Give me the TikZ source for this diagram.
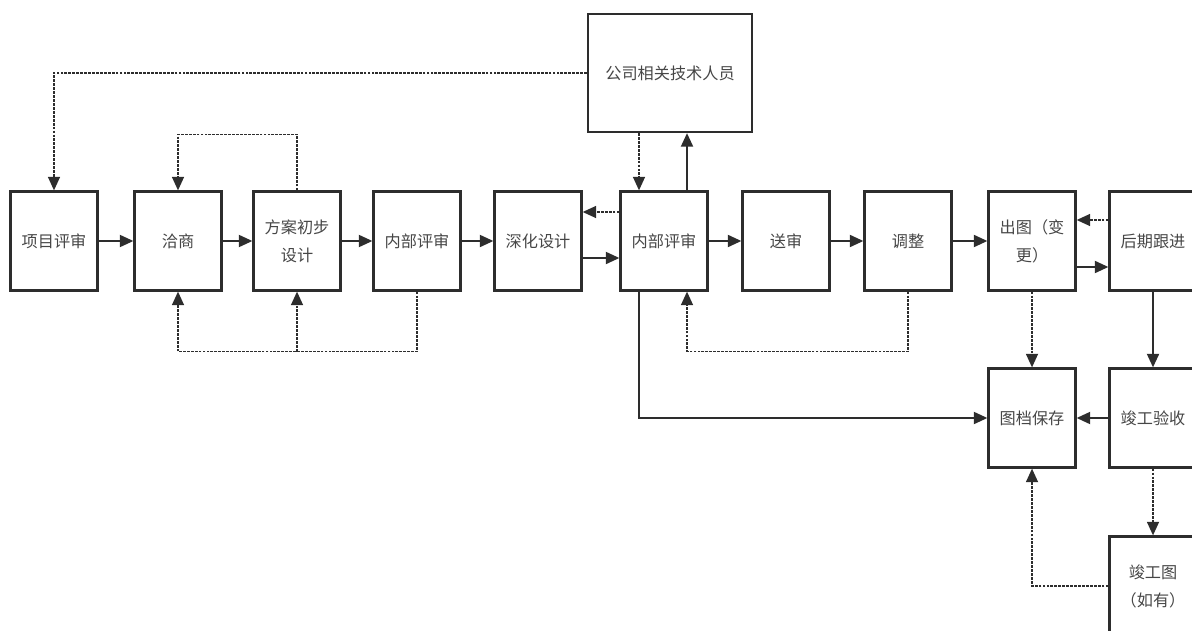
\documentclass[tikz,border=0pt]{standalone}
\usepackage{fontspec}
\newfontfamily\cjk{Noto Sans CJK SC}
\usetikzlibrary{arrows.meta,positioning,calc}
\definecolor{flowLine}{RGB}{45,45,45}
\definecolor{flowText}{RGB}{70,70,70}
\tikzset{
    flowBox/.style={
        rectangle,
        draw=flowLine,
        line width=1.6pt,
        minimum width=2.175cm,
        minimum height=2.475cm,
        font=\cjk\fontsize{11.5}{20}\selectfont,
        text=flowText,
        align=center,
        inner sep=2pt
    },
    flowTip/.style={-{Triangle[length=3.4mm,width=3mm]}}
}

\begin{document}
\begin{tikzpicture}[
    arr/.style={flowTip, draw=flowLine, line width=1.5pt},
    dotarr/.style={flowTip, draw=flowLine, line width=1.2pt, dash pattern=on 2pt off 0.8pt},
    dotline/.style={draw=flowLine, line width=1.2pt, dash pattern=on 2pt off 0.8pt}
]
\useasboundingbox (0,0) rectangle (29.8,15.75);

% Main row
\node[flowBox] (xm) at (1.35, 9.725) {项目评审};
\node[flowBox] (qs) at (4.45, 9.725) {洽商};
\node[flowBox] (fa) at (7.425, 9.725) {方案初步\\设计};
\node[flowBox] (nb1) at (10.425, 9.725) {内部评审};
\node[flowBox] (sh) at (13.45, 9.725) {深化设计};
\node[flowBox] (nb2) at (16.6, 9.725) {内部评审};
\node[flowBox] (ss) at (19.65, 9.725) {送审};
\node[flowBox] (tz) at (22.7, 9.725) {调整};
\node[flowBox] (ct) at (25.8, 9.725) {出图（变\\更）};
\node[flowBox] (hq) at (28.825, 9.725) {后期跟进};

% Staff box
\node[flowBox, minimum width=4.1cm, minimum height=2.95cm] (gs) at (16.75, 13.925) {公司相关技术人员};

% Lower rows
\node[flowBox] (td) at (25.8, 5.3) {图档保存};
\node[flowBox] (jy) at (28.825, 5.3) {竣工验收};
\node[flowBox] (jt) at (28.825, 1.1) {竣工图\\（如有）};

% Forward flow
\draw[arr] (xm) -- (qs);
\draw[arr] (qs) -- (fa);
\draw[arr] (fa) -- (nb1);
\draw[arr] (nb1) -- (sh);
\draw[arr] ([yshift=-0.425cm]sh.east) -- ([yshift=-0.425cm]nb2.west);
\draw[dotarr] ([yshift=0.725cm]nb2.west) -- ([yshift=0.725cm]sh.east);
\draw[arr] (nb2) -- (ss);
\draw[arr] (ss) -- (tz);
\draw[arr] (tz) -- (ct);
\draw[arr] ([yshift=-0.65cm]ct.east) -- ([yshift=-0.65cm]hq.west);
\draw[dotarr] ([yshift=0.525cm]hq.west) -- ([yshift=0.525cm]ct.east);

% Staff links
\draw[dotarr] ([xshift=-0.625cm]gs.south -| nb2.south) -- ([xshift=-0.625cm]nb2.north);
\draw[arr] ([xshift=0.575cm]nb2.north) -- ([xshift=0.575cm]nb2.north |- gs.south);
\draw[dotarr] (gs.west) -| (xm.north);

% Feedback loops
\draw[dotarr] (fa.north) -- ++(0,1.4) -| (qs.north);
\coordinate (loopA) at ($(nb1.south)+(0,-1.5)$);
\draw[dotarr] (nb1.south) -- (loopA) -| (qs.south);
\draw[dotarr] (fa.south |- loopA) -- (fa.south);
\draw[dotarr] (tz.south) -- (tz.south |- loopA) -| ([xshift=0.575cm]nb2.south);

% Archiving
\draw[arr] ([xshift=-0.625cm]nb2.south) |- (td.west);
\draw[dotarr] (ct) -- (td);
\draw[arr] (hq) -- (jy);
\draw[arr] (jy) -- (td);
\draw[dotarr] (jy) -- (jt);
\draw[dotarr] (jt.west) -| (td.south);
\end{tikzpicture}
\end{document}
